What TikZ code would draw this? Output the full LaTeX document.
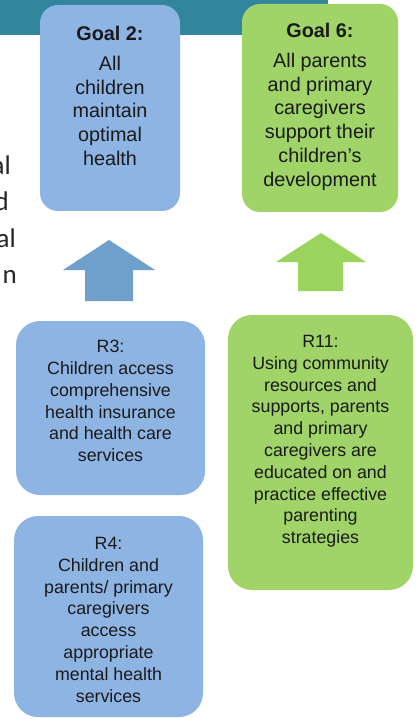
\documentclass[tikz,border=0pt]{standalone}
\usepackage{fontspec}
\setmainfont{Liberation Sans}
\newfontfamily\slidefont{Carlito}
\usetikzlibrary{positioning}
\definecolor{gdTeal}{HTML}{31859C}
\definecolor{gdBlue}{HTML}{8EB4E3}
\definecolor{gdBlueDark}{HTML}{6F9FCB}
\definecolor{gdGreen}{HTML}{A0D468}
\definecolor{gdGreenDark}{HTML}{9AD35E}
\definecolor{gdText}{HTML}{1A1A1A}
\tikzset{
  panel/.style={inner sep=0pt, outer sep=0pt},
  goalbox/.style={panel, rounded corners=18pt},
  resbox/.style={panel, rounded corners=24pt},
  goaltext/.style={inner sep=0pt, align=center, text=gdText,
    font=\fontsize{19.8}{23.8}\selectfont},
  restext/.style={inner sep=0pt, align=center, text=gdText,
    font=\fontsize{17.8}{21.8}\selectfont},
  cuttext/.style={inner sep=0pt, anchor=base east, text=black!85,
    font=\slidefont\fontsize{27}{34}\selectfont},
  uparrow/.style={draw=none}
}

\begin{document}
\begin{tikzpicture}[x=1pt, y=-1pt]
  \clip (0,0) rectangle (419,719);
  \fill[white] (0,0) rectangle (419,719);
  % header band and cut-off slide text
  \fill[gdTeal] (0,0) rectangle (328,35);
  \node[cuttext] (cut1) at (11,175) {al};
  \node[cuttext] (cut2) at (9,211) {d};
  \node[cuttext] (cut3) at (16,247) {al};
  \node[cuttext] (cut4) at (17,283) {n};
  % goals
  \node[goalbox, fill=gdBlue, minimum width=140pt, minimum height=206pt] (g2) at (110,108) {};
  \node[goalbox, fill=gdGreen, minimum width=156pt, minimum height=208pt] (g6) at (320,108) {};
  \node[goaltext, below=20.5pt of g2.north] (g2txt)
    {\textbf{Goal 2:}\\[6.5pt]All\\children\\maintain\\optimal\\health};
  \node[goaltext, below=18.5pt of g6.north] (g6txt)
    {\textbf{Goal 6:}\\[6.5pt]All parents\\and primary\\caregivers\\support their\\children’s\\development};
  % arrows
  \fill[uparrow, gdBlueDark] (109,240) -- (155,270) -- (133,270) -- (133,301)
    -- (85,301) -- (85,270) -- (63,270) -- cycle;
  \fill[uparrow, gdGreenDark] (321,233) -- (366,262) -- (343,262) -- (343,291)
    -- (298,291) -- (298,262) -- (276,262) -- cycle;
  % results
  \node[resbox, fill=gdBlue, minimum width=189pt, minimum height=174pt] (r3) at (110.5,408) {};
  \node[resbox, fill=gdBlue, minimum width=189pt, minimum height=201pt, below=21pt of r3, xshift=-2pt] (r4) {};
  \node[resbox, fill=gdGreen, minimum width=185pt, minimum height=275pt] (r11) at (320.5,452.5) {};
  \node[restext, below=19pt of r3.north] (r3txt)
    {R3:\\Children access\\comprehensive\\health insurance\\and health care\\services};
  \node[restext, below=21pt of r4.north] (r4txt)
    {R4:\\Children and\\parents/ primary\\caregivers\\access\\appropriate\\mental health\\services};
  \node[restext, below=20pt of r11.north] (r11txt)
    {R11:\\Using community\\resources and\\supports, parents\\and primary\\caregivers are\\educated on and\\practice effective\\parenting\\strategies};
\end{tikzpicture}
\end{document}
